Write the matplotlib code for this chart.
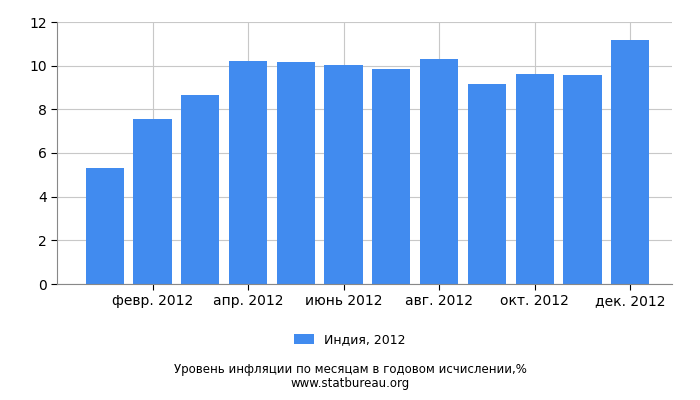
import matplotlib
matplotlib.use("Agg")
import matplotlib.pyplot as plt

months = ["янв. 2012", "февр. 2012", "март 2012", "апр. 2012", "май 2012", "июнь 2012",
          "июль 2012", "авг. 2012", "сент. 2012", "окт. 2012", "нояб. 2012", "дек. 2012"]
values = [5.3, 7.56, 8.65, 10.22, 10.16, 10.05, 9.84, 10.31, 9.14, 9.6, 9.55, 11.17]
yticks = [0, 2, 4, 6, 8, 10, 12]

fig = plt.figure(figsize=(7, 4), dpi=100)
ax = fig.add_axes([57/700, 1-284/400, 615/700, 262/400])
x = list(range(len(values)))
ax.bar(x, values, width=0.8, color="#418bef", zorder=2, label="Индия, 2012")
ax.set_xlim(-1, 11.875)
ax.set_ylim(0, 12)
ax.set_yticks(yticks)
ax.set_xticks(x[1::2])
ax.set_xticklabels(months[1::2], fontsize=10)
ax.tick_params(axis="y", labelsize=10)
ax.grid(True, color="#c8c8c8", linewidth=0.8, zorder=0)
for s in ["top", "right"]:
    ax.spines[s].set_visible(False)
ax.spines["left"].set_color("#888888")
ax.spines["bottom"].set_color("#888888")
ax.tick_params(colors="#000000", length=4)
fig.legend(loc="center", bbox_to_anchor=(0.5, 1-340/400), frameon=False, fontsize=9,
           handlelength=1.6, handleheight=0.8)
fig.text(0.5, 1-370/400, "Уровень инфляции по месяцам в годовом исчислении,%", ha="center", va="center", fontsize=8.5)
fig.text(0.5, 1-383/400, "www.statbureau.org", ha="center", va="center", fontsize=8.5)
fig.savefig("out.png", dpi=100)
